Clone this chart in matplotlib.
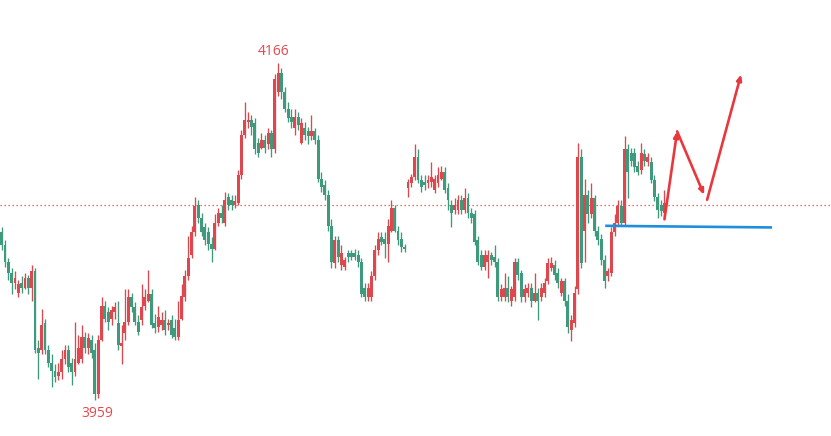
import matplotlib

matplotlib.use("Agg")

import matplotlib.pyplot as plt  # noqa: E402
import numpy as np  # noqa: E402

# candle OHLC, left to right (red = up, green = down)
opens = [
    4062, 4054, 4044, 4037, 4031, 4025, 4031, 4028, 4034, 4028,
    4038, 3991, 3990, 4006, 3990, 3982, 3977, 3974, 3976, 3984,
    3990, 3982, 3976, 3982, 3984, 3998, 3991, 3996, 3990, 3963,
    3996, 4017, 4013, 4009, 4013, 4006, 3992, 4000, 4007, 4022,
    4016, 4007, 4008, 4017, 4020, 4024, 4006, 4004, 4005, 4008,
    4005, 4008, 4003, 3998, 4009, 4022, 4035, 4048, 4062, 4079,
    4071, 4065, 4062, 4055, 4052, 4068, 4074, 4068, 4084, 4082,
    4079, 4080, 4097, 4122, 4130, 4131, 4129, 4117, 4114, 4119,
    4116, 4123, 4113, 4148, 4160, 4148, 4138, 4133, 4126, 4133,
    4117, 4126, 4124, 4121, 4124, 4119, 4095, 4091, 4085, 4066,
    4043, 4057, 4042, 4041, 4049, 4049, 4049, 4048, 4044, 4028,
    4022, 4022, 4035, 4051, 4059, 4058, 4055, 4063, 4077, 4063,
    4058, 4053, 4089, 4092, 4096, 4108, 4094, 4093, 4092, 4093,
    4088, 4092, 4095, 4099, 4089, 4079, 4076, 4076, 4082, 4076,
    4083, 4074, 4073, 4057, 4048, 4041, 4044, 4048, 4047, 4044,
    4022, 4022, 4028, 4020, 4022, 4044, 4037, 4022, 4025, 4028,
    4020, 4025, 4022, 4025, 4032, 4040, 4042, 4037, 4025, 4032,
    4020, 4002, 4006, 4027, 4108, 4063, 4085, 4073, 4083, 4063,
    4058, 4045, 4035, 4037, 4062, 4068, 4078, 4068, 4113, 4111,
    4111, 4103, 4100, 4110, 4105, 4105, 4094, 4084, 4079, 4074,
]
highs = [
    4065, 4057, 4046, 4040, 4038, 4033, 4035, 4037, 4036, 4042,
    4040, 3996, 4015, 4009, 3993, 3987, 3981, 3982, 3990, 3993,
    3993, 3985, 4007, 3999, 4005, 4001, 4000, 3999, 3994, 3999,
    4022, 4020, 4016, 4017, 4019, 4020, 4005, 4027, 4027, 4025,
    4019, 4011, 4030, 4027, 4039, 4027, 4012, 4017, 4013, 4014,
    4009, 4011, 4009, 4020, 4030, 4039, 4060, 4066, 4084, 4082,
    4074, 4068, 4065, 4059, 4073, 4077, 4079, 4087, 4086, 4085,
    4085, 4100, 4125, 4142, 4136, 4134, 4132, 4120, 4123, 4122,
    4126, 4125, 4159, 4166, 4163, 4151, 4142, 4138, 4138, 4136,
    4132, 4130, 4127, 4134, 4126, 4122, 4099, 4094, 4088, 4070,
    4060, 4060, 4054, 4047, 4051, 4051, 4052, 4051, 4046, 4031,
    4031, 4038, 4054, 4062, 4062, 4062, 4070, 4082, 4079, 4066,
    4062, 4055, 4095, 4098, 4116, 4113, 4097, 4097, 4097, 4105,
    4097, 4102, 4103, 4102, 4092, 4082, 4083, 4085, 4085, 4089,
    4086, 4077, 4076, 4060, 4051, 4051, 4051, 4050, 4054, 4046,
    4030, 4037, 4035, 4029, 4046, 4046, 4039, 4030, 4031, 4031,
    4037, 4028, 4031, 4034, 4046, 4047, 4045, 4040, 4034, 4034,
    4024, 4011, 4029, 4117, 4113, 4095, 4088, 4092, 4085, 4066,
    4061, 4048, 4040, 4065, 4073, 4082, 4082, 4121, 4116, 4114,
    4114, 4106, 4117, 4113, 4111, 4108, 4097, 4086, 4082, 4088,
]
lows = [
    4051, 4041, 4033, 4024, 4027, 4022, 4025, 4027, 4024, 4020,
    3988, 3972, 3987, 3987, 3979, 3967, 3970, 3971, 3972, 3981,
    3976, 3968, 3974, 3981, 3982, 3988, 3987, 3985, 3959, 3960,
    3995, 4007, 4002, 4005, 4009, 3990, 3981, 3996, 4005, 4013,
    4005, 3999, 4005, 4014, 4019, 4003, 4000, 4001, 4002, 3999,
    4002, 3997, 3996, 3996, 4008, 4020, 4033, 4046, 4060, 4068,
    4060, 4054, 4051, 4044, 4051, 4066, 4068, 4066, 4076, 4076,
    4077, 4079, 4095, 4120, 4126, 4122, 4110, 4108, 4113, 4111,
    4113, 4108, 4111, 4146, 4144, 4136, 4130, 4126, 4122, 4125,
    4116, 4119, 4116, 4119, 4116, 4093, 4087, 4082, 4063, 4040,
    4040, 4044, 4039, 4039, 4044, 4045, 4045, 4041, 4022, 4020,
    4020, 4020, 4033, 4048, 4054, 4046, 4044, 4062, 4062, 4054,
    4050, 4050, 4084, 4090, 4094, 4092, 4087, 4088, 4089, 4090,
    4086, 4090, 4094, 4086, 4076, 4065, 4073, 4073, 4073, 4074,
    4071, 4068, 4054, 4042, 4039, 4039, 4034, 4042, 4041, 4020,
    4020, 4020, 4019, 4017, 4020, 4033, 4019, 4019, 4022, 4016,
    4019, 4008, 4020, 4022, 4030, 4038, 4033, 4028, 4023, 4017,
    4000, 3995, 4004, 4024, 4040, 4044, 4068, 4071, 4060, 4054,
    4042, 4028, 4032, 4035, 4060, 4066, 4066, 4066, 4083, 4103,
    4099, 4097, 4098, 4103, 4103, 4092, 4081, 4071, 4072, 4071,
]
closes = [
    4054, 4044, 4037, 4031, 4034, 4030, 4028, 4034, 4028, 4038,
    3990, 3988, 4005, 3990, 3982, 3977, 3973, 3976, 3984, 3990,
    3979, 3976, 3984, 3991, 3998, 3991, 3997, 3988, 3963, 3996,
    4017, 4009, 4007, 4014, 4016, 3993, 3994, 4007, 4022, 4016,
    4007, 4001, 4016, 4022, 4024, 4005, 4003, 4010, 4008, 4002,
    4006, 3999, 3998, 4008, 4023, 4035, 4046, 4062, 4078, 4071,
    4062, 4057, 4055, 4052, 4068, 4074, 4071, 4082, 4079, 4079,
    4081, 4097, 4122, 4131, 4131, 4127, 4113, 4111, 4119, 4114,
    4123, 4113, 4156, 4160, 4148, 4138, 4132, 4130, 4133, 4128,
    4129, 4122, 4121, 4124, 4119, 4095, 4090, 4085, 4066, 4044,
    4057, 4047, 4049, 4045, 4047, 4047, 4047, 4044, 4024, 4022,
    4028, 4035, 4051, 4058, 4056, 4055, 4066, 4077, 4063, 4057,
    4053, 4052, 4093, 4096, 4108, 4094, 4090, 4091, 4094, 4096,
    4095, 4097, 4099, 4088, 4082, 4074, 4079, 4082, 4076, 4083,
    4074, 4071, 4056, 4044, 4041, 4048, 4048, 4045, 4044, 4022,
    4027, 4028, 4022, 4027, 4044, 4036, 4022, 4027, 4028, 4020,
    4025, 4020, 4028, 4031, 4043, 4043, 4036, 4031, 4032, 4020,
    4004, 4008, 4025, 4108, 4043, 4085, 4073, 4083, 4063, 4057,
    4045, 4032, 4038, 4062, 4068, 4078, 4068, 4113, 4099, 4106,
    4102, 4099, 4111, 4106, 4108, 4094, 4084, 4076, 4075, 4080,
]

ref_price = 4079  # dotted red line
support_x = [181.2, 231.3]  # blue support line (bar index)
support_y = [4066, 4065]
# hand-drawn forecast: up, down, then up again
forecast_x = [199.0, 202.8, 210.9]
forecast_y = [4070, 4124, 4085]
forecast2_x = [211.8, 222.0]
forecast2_y = [4082, 4159]

UP = "#de474d"
DOWN = "#3f9a7d"
LABEL = "#e5484d"
ARROW = "#e8383d"

o = np.array(opens)
h = np.array(highs)
l = np.array(lows)
c = np.array(closes)
x = np.arange(len(o))
colors = np.where(c >= o, UP, DOWN)

fig = plt.figure(figsize=(8.31, 4.36), dpi=100)
ax = fig.add_axes([0, 0, 1, 1])
ax.set_xlim(-0.51, 249.0)
ax.set_ylim(3936.9, 4204.7)
ax.axis("off")

ax.vlines(x, l, h, colors=colors, lw=0.95, zorder=2)
ax.bar(x, np.maximum(np.abs(c - o), 1.0), bottom=np.minimum(o, c), width=0.88,
       color=colors, linewidth=0, zorder=3)

ax.axhline(ref_price, color="#d24a45", lw=0.9, ls=(0, (1, 2.2)), zorder=1)
ax.plot(support_x, support_y, color="#1f8fdc", lw=1.9, solid_capstyle="butt", zorder=4)

arrow = dict(arrowstyle="-|>,head_length=0.32,head_width=0.14", color=ARROW, lw=1.9,
             shrinkA=0, shrinkB=0)
for i in range(len(forecast_x) - 1):
    ax.annotate("", xy=(forecast_x[i + 1], forecast_y[i + 1]),
                xytext=(forecast_x[i], forecast_y[i]), arrowprops=arrow, zorder=5)
ax.annotate("", xy=(forecast2_x[1], forecast2_y[1]), xytext=(forecast2_x[0], forecast2_y[0]),
            arrowprops=arrow, zorder=5)

# extreme labels
hi_i = int(np.argmax(h))
lo_i = int(np.argmin(l))
ax.annotate(f"{h[hi_i]}", (hi_i, h[hi_i]), xytext=(-3, 8.6), textcoords="offset points",
            ha="center", va="center", color=LABEL, fontsize=10, family="Open Sans")
ax.annotate(f"{l[lo_i]}", (lo_i, l[lo_i]), xytext=(1.5, -9.5), textcoords="offset points",
            ha="center", va="center", color=LABEL, fontsize=10, family="Open Sans")

fig.savefig("out.png", dpi=100)
